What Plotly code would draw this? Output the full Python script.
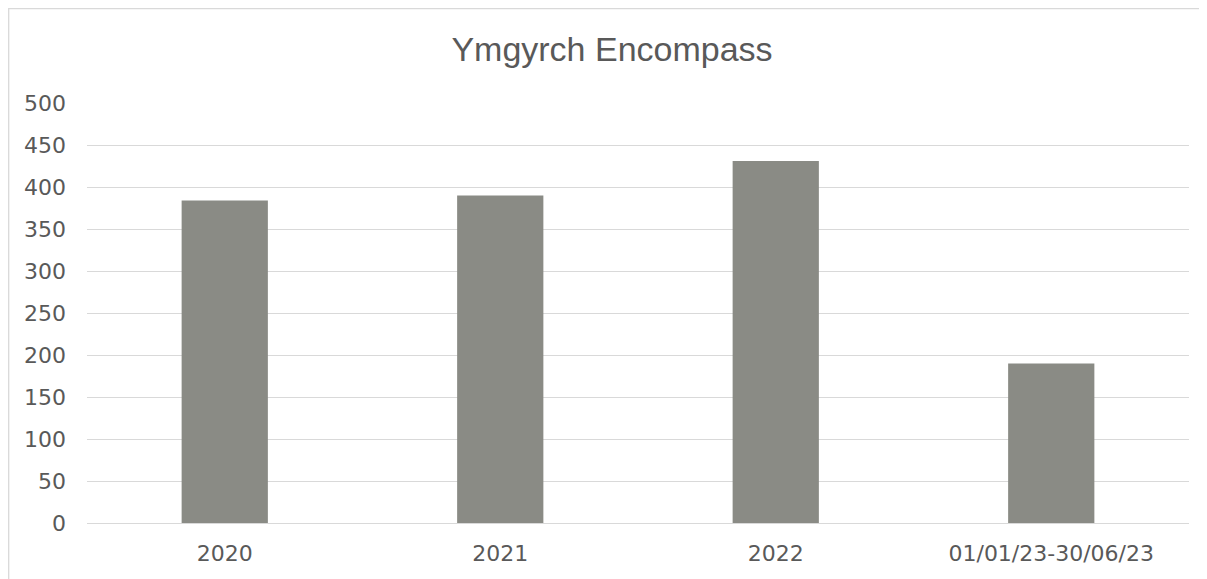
import plotly.graph_objects as go

categories = ["2020", "2021", "2022", "01/01/23-30/06/23"]
values = [384, 390, 431, 190]
y_ticks = [0, 50, 100, 150, 200, 250, 300, 350, 400, 450, 500]

# page has an 8px body margin, so the figure is sized to fill the window
W, H = 1199, 571
L, R, T, B = 79, 18, 95, 56
pw = W - L - R
ph = H - T - B

fig = go.Figure(go.Bar(x=categories, y=values, marker=dict(color="#8a8b85", line=dict(width=0)), width=0.313))

tick_font = "DejaVu Sans, Liberation Sans, Arial, sans-serif"
title_font = "Liberation Sans, Arial, sans-serif"

fig.update_layout(
    width=W, height=H,
    margin=dict(l=L, r=R, t=T, b=B),
    paper_bgcolor="white", plot_bgcolor="white",
    title=dict(text="Ymgyrch Encompass", x=604 / W, xanchor="center", xref="container",
               y=1 - 41 / H, yanchor="middle", yref="container",
               font=dict(family=title_font, size=34, color="#595959")),
    font=dict(family=tick_font, size=22, color="#595959"),
    showlegend=False,
    bargap=0.687,
)
fig.update_yaxes(range=[0, 500], tickvals=y_ticks, showgrid=True, gridcolor="#d9d9d9", gridwidth=1.3,
                 zeroline=False, showline=False, ticks="", ticklabelstandoff=20,
                 tickfont=dict(family=tick_font, size=22, color="#595959"))
fig.update_xaxes(showgrid=False, showline=True, linecolor="#d9d9d9", linewidth=1.3, ticks="",
                 ticklabelstandoff=10, tickfont=dict(family=tick_font, size=22, color="#595959"))

# outer chart border (left and top visible)
fig.add_shape(type="rect", xref="paper", yref="paper",
              x0=(0.7 - L) / pw, x1=(W + 20 - L) / pw,
              y0=-(B + 30) / ph, y1=(ph + T - 0.7) / ph,
              line=dict(color="#d9d9d9", width=1.3), fillcolor="rgba(0,0,0,0)", layer="below")

fig.write_html("out.html")
